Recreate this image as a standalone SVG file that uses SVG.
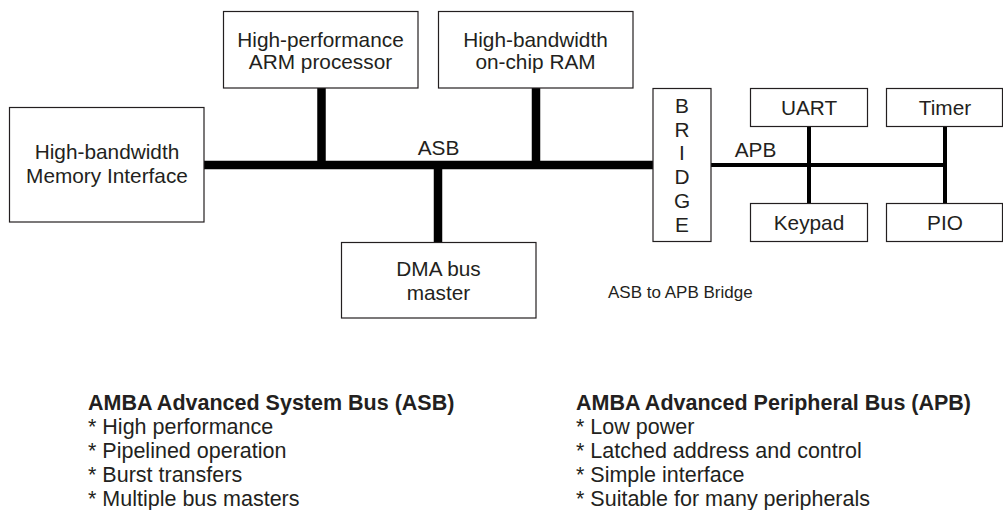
<svg xmlns="http://www.w3.org/2000/svg" width="1003" height="510" viewBox="0 0 1003 510">
<style>
.box{fill:#fff;stroke:#231f20;stroke-width:1.2}
.lbl{font-family:"Liberation Sans",Arial,sans-serif;font-size:20.8px;fill:#231f20;text-anchor:middle}
.note{font-family:"Liberation Sans",Arial,sans-serif;font-size:17px;fill:#231f20}
.txt{font-family:"Liberation Sans",Arial,sans-serif;font-size:21.5px;fill:#231f20}
.bold{font-weight:bold}
.asb{stroke:#000;stroke-width:8.5;fill:none}
.apb{stroke:#000;stroke-width:4;fill:none}
</style>
<rect width="1003" height="510" fill="#fff"/>
<g id="connectors">
<line class="asb" x1="204" y1="165" x2="653" y2="165"/>
<line class="asb" x1="321.5" y1="88" x2="321.5" y2="165"/>
<line class="asb" x1="536" y1="88" x2="536" y2="165"/>
<line class="asb" x1="438" y1="165" x2="438" y2="242"/>
<line class="apb" x1="711" y1="165" x2="945" y2="165"/>
<line class="apb" x1="809" y1="126" x2="809" y2="203"/>
<line class="apb" x1="945" y1="126" x2="945" y2="203"/>
</g>
<g id="memory">
<rect class="box" x="9.5" y="107.5" width="194.5" height="114.5"/>
<text class="lbl" x="107" y="158.5">High-bandwidth</text>
<text class="lbl" x="107" y="182.5">Memory Interface</text>
</g>
<g id="arm">
<rect class="box" x="223.5" y="11.5" width="194.5" height="76.5"/>
<text class="lbl" x="320.5" y="47">High-performance</text>
<text class="lbl" x="320.5" y="69">ARM processor</text>
</g>
<g id="ram">
<rect class="box" x="438.5" y="11.5" width="194.5" height="76.5"/>
<text class="lbl" x="535.5" y="47">High-bandwidth</text>
<text class="lbl" x="535.5" y="69">on-chip RAM</text>
</g>
<g id="dma">
<rect class="box" x="341.5" y="242.5" width="194.5" height="75.5"/>
<text class="lbl" x="438.5" y="276">DMA bus</text>
<text class="lbl" x="438.5" y="300">master</text>
</g>
<g id="bridge">
<rect class="box" x="653" y="88.5" width="58" height="153"/>
<text class="lbl" x="682" y="112.5">B</text>
<text class="lbl" x="682" y="136.5">R</text>
<text class="lbl" x="682" y="160">I</text>
<text class="lbl" x="682" y="184">D</text>
<text class="lbl" x="682" y="208">G</text>
<text class="lbl" x="682" y="231.5">E</text>
</g>
<g id="uart">
<rect class="box" x="750.5" y="88.5" width="117" height="38"/>
<text class="lbl" x="809" y="115">UART</text>
</g>
<g id="timer">
<rect class="box" x="886.5" y="88.5" width="116" height="38"/>
<text class="lbl" x="945" y="115">Timer</text>
</g>
<g id="keypad">
<rect class="box" x="750.5" y="203.5" width="117" height="38"/>
<text class="lbl" x="809" y="229.5">Keypad</text>
</g>
<g id="pio">
<rect class="box" x="886.5" y="203.5" width="116" height="38"/>
<text class="lbl" x="945" y="229.5">PIO</text>
</g>
<g id="labels">
<text class="lbl" x="438.5" y="155">ASB</text>
<text class="lbl" x="755.5" y="157">APB</text>
<text class="note" x="608" y="298">ASB to APB Bridge</text>
</g>
<g id="asb-notes">
<text class="txt bold" x="88" y="410">AMBA Advanced System Bus (ASB)</text>
<text class="txt" x="88" y="434">* High performance</text>
<text class="txt" x="88" y="458">* Pipelined operation</text>
<text class="txt" x="88" y="482">* Burst transfers</text>
<text class="txt" x="88" y="506">* Multiple bus masters</text>
</g>
<g id="apb-notes">
<text class="txt bold" x="576" y="410">AMBA Advanced Peripheral Bus (APB)</text>
<text class="txt" x="576" y="434">* Low power</text>
<text class="txt" x="576" y="458">* Latched address and control</text>
<text class="txt" x="576" y="482">* Simple interface</text>
<text class="txt" x="576" y="506">* Suitable for many peripherals</text>
</g>
</svg>
